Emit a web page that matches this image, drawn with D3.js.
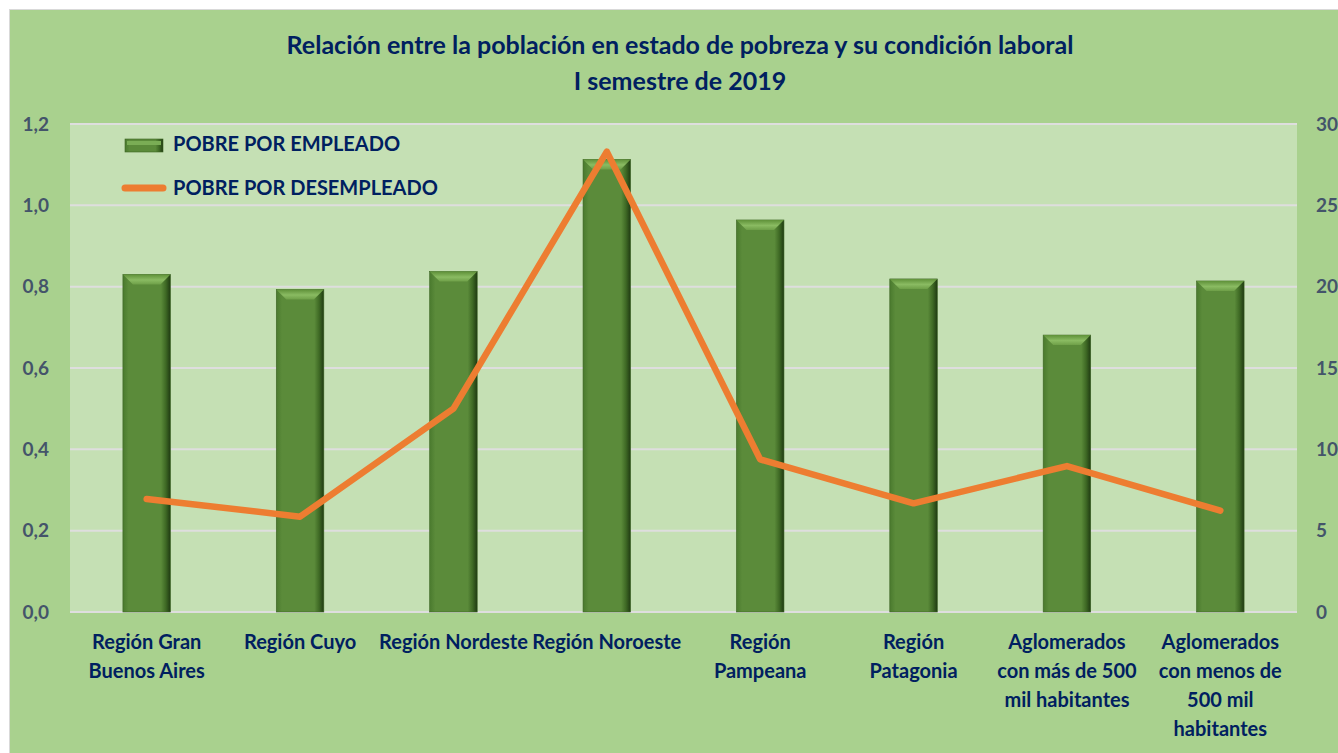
<!DOCTYPE html>
<html lang="es">
<head>
    <meta charset="UTF-8">
    <title>Pobreza y condición laboral</title>
    <script src="https://d3js.org/d3.v7.min.js"></script>
    <style type="text/css">
        body { margin: 0; background: #fff; }
        svg { display: block; }
    </style>
</head>
<body>
<script type="text/javascript">

// data
var categories = [
    ["Región Gran", "Buenos Aires"],
    ["Región Cuyo"],
    ["Región Nordeste"],
    ["Región Noroeste"],
    ["Región", "Pampeana"],
    ["Región", "Patagonia"],
    ["Aglomerados", "con más de 500", "mil habitantes"],
    ["Aglomerados", "con menos de", "500 mil", "habitantes"]
];
var pobrePorEmpleado = [0.83, 0.793, 0.837, 1.113, 0.964, 0.819, 0.681, 0.814];
var pobrePorDesempleado = [6.95, 5.86, 12.5, 28.3, 9.38, 6.68, 8.97, 6.23];
var leftTicks = [0, 0.2, 0.4, 0.6, 0.8, 1.0, 1.2];
var rightTicks = [0, 5, 10, 15, 20, 25, 30];
var titleLines = ["Relación entre la población en estado de pobreza y su condición laboral", "I semestre de 2019"];
var seriesNames = ["POBRE POR EMPLEADO", "POBRE POR DESEMPLEADO"];

var w = 1338, h = 753;
var plot = {left: 70, right: 1297, top: 124, bottom: 612};
var navy = "#002060";
var tickColor = "#44546a";
var font = "Lato, 'Open Sans', sans-serif";

var svg = d3.select("body").append("svg")
    .attr("width", w)
    .attr("height", h);

var defs = svg.append("defs");
var grad = defs.append("linearGradient").attr("id", "barGrad")
    .attr("x1", "0%").attr("x2", "100%").attr("y1", "0%").attr("y2", "0%");
grad.append("stop").attr("offset", "0%").attr("stop-color", "#4a7a2e");
grad.append("stop").attr("offset", "12%").attr("stop-color", "#5b8b3a");
grad.append("stop").attr("offset", "80%").attr("stop-color", "#5b8b3a");
grad.append("stop").attr("offset", "90%").attr("stop-color", "#3f6a25");
grad.append("stop").attr("offset", "100%").attr("stop-color", "#1f3a12");

var bevelGrad = defs.append("linearGradient").attr("id", "bevelGrad")
    .attr("x1", "0%").attr("x2", "0%").attr("y1", "0%").attr("y2", "100%");
bevelGrad.append("stop").attr("offset", "0%").attr("stop-color", "#5f9139");
bevelGrad.append("stop").attr("offset", "55%").attr("stop-color", "#8abb62");
bevelGrad.append("stop").attr("offset", "100%").attr("stop-color", "#6e9f48");

// chart area
svg.append("rect")
    .attr("x", 9.5).attr("y", 9.5)
    .attr("width", w).attr("height", h)
    .attr("fill", "#a9d18e")
    .attr("stroke", "#d9d9d9");

svg.append("rect")
    .attr("x", plot.left).attr("y", plot.top)
    .attr("width", plot.right - plot.left).attr("height", plot.bottom - plot.top)
    .attr("fill", "#c5e0b4");

//Create scale functions
var xScale = d3.scaleBand()
    .domain(d3.range(categories.length))
    .range([plot.left, plot.right])
    .paddingInner(0.69)
    .paddingOuter(0.345);

var yLeft = d3.scaleLinear().domain([0, 1.2]).range([plot.bottom, plot.top]);
var yRight = d3.scaleLinear().domain([0, 30]).range([plot.bottom, plot.top]);

// gridlines
svg.append("g")
    .selectAll("line")
    .data(leftTicks)
    .enter()
    .append("line")
    .attr("x1", plot.left).attr("x2", plot.right)
    .attr("y1", function(d) { return yLeft(d); })
    .attr("y2", function(d) { return yLeft(d); })
    .attr("stroke", "#dedede")
    .attr("stroke-width", 2);

// left axis
var leftAxis = d3.axisLeft(yLeft)
    .tickValues(leftTicks)
    .tickSize(0)
    .tickPadding(21)
    .tickFormat(function(d) { return d3.format(".1f")(d).replace(".", ","); });
var gl = svg.append("g").attr("transform", "translate(" + plot.left + ",0)").call(leftAxis);
gl.select(".domain").remove();
gl.selectAll("text")
    .attr("font-family", font)
    .attr("font-size", "19px")
    .attr("font-weight", "bold")
    .attr("fill", tickColor);

// right axis
var rightAxis = d3.axisRight(yRight)
    .tickValues(rightTicks)
    .tickSize(0)
    .tickPadding(19);
var gr = svg.append("g").attr("transform", "translate(" + plot.right + ",0)").call(rightAxis);
gr.select(".domain").remove();
gr.selectAll("text")
    .attr("font-family", font)
    .attr("font-size", "19px")
    .attr("font-weight", "bold")
    .attr("fill", tickColor);

// bars
var bars = svg.append("g").selectAll("g")
    .data(pobrePorEmpleado)
    .enter()
    .append("g");

bars.append("rect")
    .attr("x", function(d, i) { return xScale(i); })
    .attr("y", function(d) { return yLeft(d); })
    .attr("width", xScale.bandwidth())
    .attr("height", function(d) { return yLeft(0) - yLeft(d); })
    .attr("fill", "url(#barGrad)")
    .attr("stroke", "#3d6424")
    .attr("stroke-width", 0.6);

// bevel on bar top
bars.append("path")
    .attr("d", function(d, i) {
        var x0 = xScale(i), x1 = x0 + xScale.bandwidth(), y0 = yLeft(d), b = 10;
        return "M" + x0 + "," + y0 + "L" + x1 + "," + y0 + "L" + (x1 - b) + "," + (y0 + b) +
            "L" + (x0 + b) + "," + (y0 + b) + "Z";
    })
    .attr("fill", "url(#bevelGrad)");

// line
var line = d3.line()
    .x(function(d, i) { return xScale(i) + xScale.bandwidth() / 2; })
    .y(function(d) { return yRight(d); });

svg.append("path")
    .datum(pobrePorDesempleado)
    .attr("d", line)
    .attr("fill", "none")
    .attr("stroke", "#ed7d31")
    .attr("stroke-width", 6.5)
    .attr("stroke-linecap", "round")
    .attr("stroke-linejoin", "round");

// category labels
var catG = svg.append("g");
categories.forEach(function(lines, i) {
    var t = catG.append("text")
        .attr("x", xScale(i) + xScale.bandwidth() / 2)
        .attr("y", 649)
        .attr("text-anchor", "middle")
        .attr("font-family", font)
        .attr("font-size", "20px")
        .attr("font-weight", "bold")
        .attr("fill", navy);
    lines.forEach(function(l, j) {
        t.append("tspan")
            .attr("x", xScale(i) + xScale.bandwidth() / 2)
            .attr("dy", j === 0 ? 0 : 29)
            .text(l);
    });
});

// title
svg.selectAll("text.title")
    .data(titleLines)
    .enter()
    .append("text")
    .attr("class", "title")
    .attr("x", 680)
    .attr("y", function(d, i) { return 54 + i * 36; })
    .attr("text-anchor", "middle")
    .attr("font-family", font)
    .attr("font-size", "25px")
    .attr("font-weight", "bold")
    .attr("fill", navy)
    .text(function(d) { return d; });

// legend
var lg = svg.append("g");
lg.append("rect")
    .attr("x", 125).attr("y", 139).attr("width", 38).attr("height", 13)
    .attr("fill", "url(#barGrad)")
    .attr("stroke", "#3d6424").attr("stroke-width", 0.6);
lg.append("rect")
    .attr("x", 127).attr("y", 141).attr("width", 34).attr("height", 4)
    .attr("fill", "#7aad55");
lg.append("line")
    .attr("x1", 125).attr("x2", 163).attr("y1", 188).attr("y2", 188)
    .attr("stroke", "#ed7d31").attr("stroke-width", 7).attr("stroke-linecap", "round");

lg.selectAll("text")
    .data(seriesNames)
    .enter()
    .append("text")
    .attr("x", 173)
    .attr("y", function(d, i) { return 151 + i * 44; })
    .attr("font-family", font)
    .attr("font-size", "20px")
    .attr("font-weight", "bold")
    .attr("fill", navy)
    .text(function(d) { return d; });

</script>
</body>
</html>
